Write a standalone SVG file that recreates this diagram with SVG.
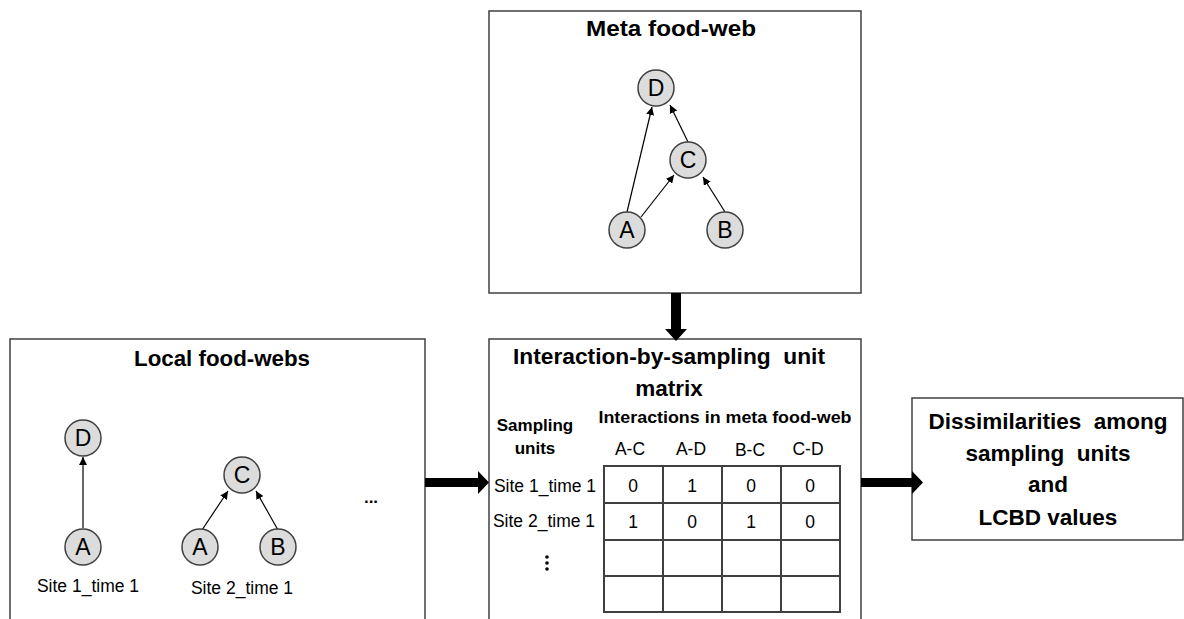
<svg xmlns="http://www.w3.org/2000/svg" width="1184" height="619" viewBox="0 0 1184 619">
<style>
.box{fill:#fff;stroke:#404040;stroke-width:1.5}
.title{font-family:"Liberation Sans",Arial,sans-serif;font-weight:bold;font-size:22.5px;fill:#000;text-anchor:middle;white-space:pre}
.sub{font-family:"Liberation Sans",Arial,sans-serif;font-weight:bold;font-size:17px;fill:#000;text-anchor:middle}
.txt{font-family:"Liberation Sans",Arial,sans-serif;font-size:17.5px;fill:#000;text-anchor:middle}
.nd{fill:#dcdcdc;stroke:#404040;stroke-width:1.5}
.nl{font-family:"Liberation Sans",Arial,sans-serif;font-size:23px;fill:#000;text-anchor:middle}
.edge{stroke:#000;stroke-width:1.2;fill:none;marker-end:url(#ah)}
.grid{stroke:#404040;stroke-width:2;fill:none}
.thick{fill:#000}
</style>
<defs>
<marker id="ah" viewBox="0 0 10 10" refX="10" refY="5" markerWidth="8" markerHeight="8" markerUnits="userSpaceOnUse" orient="auto">
<path d="M0,0 L10,5 L0,10 z" fill="#000"/>
</marker>
</defs>
<rect width="1184" height="619" fill="#fff"/>

<g id="meta-box">
<rect class="box" x="489" y="11" width="372" height="282"/>
<text class="title" x="671" y="36" textLength="170" lengthAdjust="spacingAndGlyphs">Meta food-web</text>
</g>
<g id="local-box">
<rect class="box" x="10" y="339" width="415" height="290"/>
<text class="title" x="222" y="366" textLength="176" lengthAdjust="spacingAndGlyphs">Local food-webs</text>
</g>
<g id="matrix-box">
<rect class="box" x="489" y="339" width="372" height="290"/>
<text class="title" x="669" y="364" textLength="312" lengthAdjust="spacingAndGlyphs" xml:space="preserve">Interaction-by-sampling  unit</text>
<text class="title" x="669" y="396">matrix</text>
<text class="sub" x="535" y="431">Sampling</text>
<text class="sub" x="535" y="454">units</text>
<text class="sub" x="725" y="423" textLength="253" lengthAdjust="spacingAndGlyphs">Interactions in meta food-web</text>
<text class="txt" x="630" y="455">A-C</text>
<text class="txt" x="691" y="455">A-D</text>
<text class="txt" x="750" y="456">B-C</text>
<text class="txt" x="808" y="455">C-D</text>
<text class="txt" x="545" y="492">Site 1_time 1</text>
<text class="txt" x="544" y="527">Site 2_time 1</text>
<g class="grid">
<rect x="604" y="466" width="236" height="146"/>
<path d="M663,466V612M722,466V612M781,466V612M604,503H840M604,540H840M604,576H840"/>
</g>
<text class="txt" x="633" y="492">0</text>
<text class="txt" x="692" y="492">1</text>
<text class="txt" x="751" y="492">0</text>
<text class="txt" x="810" y="492">0</text>
<text class="txt" x="633" y="528">1</text>
<text class="txt" x="692" y="528">0</text>
<text class="txt" x="751" y="528">1</text>
<text class="txt" x="810" y="528">0</text>
<g fill="#000"><circle cx="547" cy="557" r="1.8"/><circle cx="547" cy="563" r="1.8"/><circle cx="547" cy="569" r="1.8"/></g>
</g>
<g id="dissim-box">
<rect class="box" x="912" y="398" width="271" height="142"/>
<text class="title" x="1048" y="429" xml:space="preserve">Dissimilarities  among</text>
<text class="title" x="1048" y="461" xml:space="preserve">sampling  units</text>
<text class="title" x="1048" y="492">and</text>
<text class="title" x="1048" y="525">LCBD values</text>
</g>

<g id="connectors">
<line class="edge" x1="627" y1="212" x2="652" y2="107"/>
<line class="edge" x1="641" y1="217" x2="674" y2="175"/>
<line class="edge" x1="725" y1="212" x2="703" y2="177"/>
<line class="edge" x1="688" y1="142" x2="670" y2="105"/>
<line class="edge" x1="83" y1="528" x2="83" y2="457"/>
<line class="edge" x1="202" y1="530" x2="228" y2="491"/>
<line class="edge" x1="278" y1="530" x2="256" y2="491"/>
<path class="thick" d="M671,293H681V329H687L676,341L665,329H671Z"/>
<path class="thick" d="M425,478H478V471L489,482.5L478,494V487H425Z"/>
<path class="thick" d="M861,478H912V471L923,482.5L912,494V487H861Z"/>
</g>

<g id="node-meta-D"><circle class="nd" cx="656" cy="88" r="18"/><text class="nl" x="656" y="96">D</text></g>
<g id="node-meta-C"><circle class="nd" cx="688" cy="160" r="18"/><text class="nl" x="688" y="168">C</text></g>
<g id="node-meta-A"><circle class="nd" cx="627" cy="230" r="18"/><text class="nl" x="627" y="238">A</text></g>
<g id="node-meta-B"><circle class="nd" cx="725" cy="230" r="18"/><text class="nl" x="725" y="238">B</text></g>

<g id="node-s1-D"><circle class="nd" cx="83" cy="438" r="18"/><text class="nl" x="83" y="446">D</text></g>
<g id="node-s1-A"><circle class="nd" cx="83" cy="547" r="18"/><text class="nl" x="83" y="555">A</text></g>
<text class="txt" x="88" y="592">Site 1_time 1</text>
<g id="node-s2-C"><circle class="nd" cx="242" cy="475" r="18"/><text class="nl" x="242" y="483">C</text></g>
<g id="node-s2-A"><circle class="nd" cx="200" cy="547" r="18"/><text class="nl" x="200" y="555">A</text></g>
<g id="node-s2-B"><circle class="nd" cx="278" cy="547" r="18"/><text class="nl" x="278" y="555">B</text></g>
<text class="txt" x="242" y="594">Site 2_time 1</text>
<text class="sub" x="371" y="503">...</text>
</svg>
